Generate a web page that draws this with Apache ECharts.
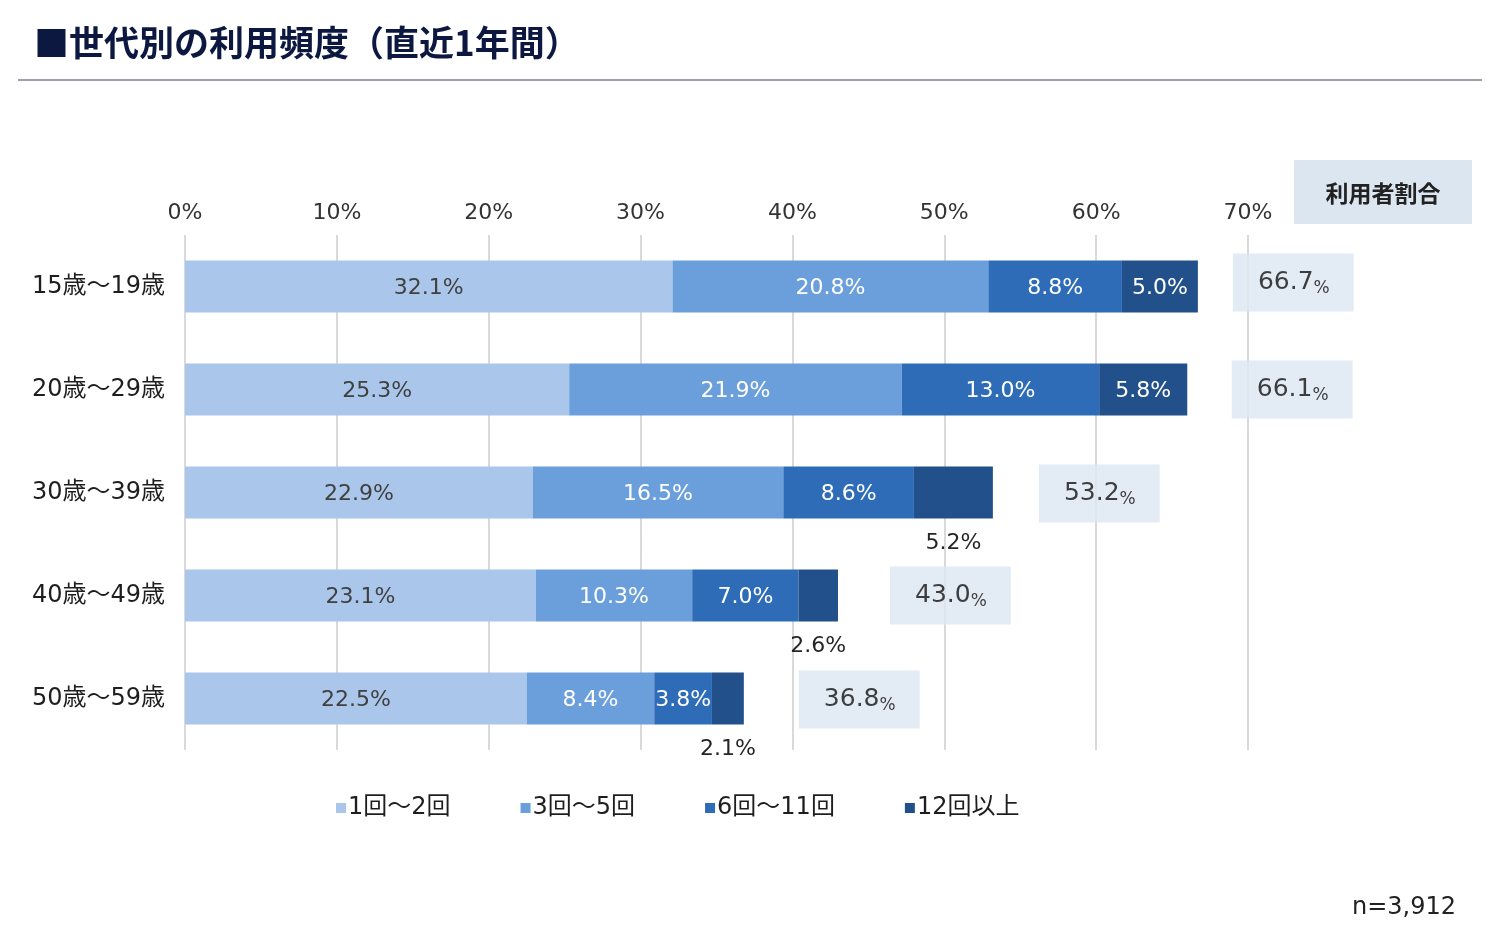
<!DOCTYPE html>
<html><head><meta charset="utf-8">
<script src="https://cdn.jsdelivr.net/npm/echarts@6/dist/echarts.min.js"></script>
<style>html,body{margin:0;padding:0;background:#fff}#c{width:1490px;height:938px}</style>
</head><body><div id="c"></div>
<script>
const categories = ['15歳～19歳','20歳～29歳','30歳～39歳','40歳～49歳','50歳～59歳'];
const seriesNames = ['1回～2回','3回～5回','6回～11回','12回以上'];
const v1to2 = [32.1, 25.3, 22.9, 23.1, 22.5];
const v3to5 = [20.8, 21.9, 16.5, 10.3, 8.4];
const v6to11 = [8.8, 13.0, 8.6, 7.0, 3.8];
const v12plus = [5.0, 5.8, 5.2, 2.6, 2.1];
const totals = [66.7, 66.1, 53.2, 43.0, 36.8];
const xTicks = [0, 10, 20, 30, 40, 50, 60, 70];

// style-only settings
const labelBelow12 = [false, false, true, true, true];
const boxGap = [35, 43, 46, 52, 55];
const boxShift = [-4, 0, 1, 0, 1];

const colors = ['#aac7eb', '#6a9fdc', '#2e6cb8', '#22508a'];
const FONT = '"Noto Sans CJK JP", "Noto Sans", sans-serif';
const FNUM = '"DejaVu Sans", "Noto Sans CJK JP", sans-serif';

const chart = echarts.init(document.getElementById('c'));

function segSeries(name, data, idx) {
  return {
    name, type: 'bar', stack: 'a', barWidth: 52,
    itemStyle: { color: colors[idx] },
    label: {
      show: true, position: 'inside', offset: [0, 1.5],
      formatter: p => p.value.toFixed(1) + '%',
      color: idx === 0 ? '#404040' : '#ffffff',
      fontSize: 22, fontFamily: FNUM
    },
    data: data.map((v, i) => {
      if (idx === 3 && labelBelow12[i]) {
        return { value: v, label: { position: 'bottom', distance: 12, offset: [0, 2], color: '#262626' } };
      }
      return v;
    })
  };
}

const option = {
  animation: false,
  backgroundColor: '#ffffff',
  textStyle: { fontFamily: FNUM },
  title: {
    text: '■世代別の利用頻度（直近1年間）',
    left: 29, top: 20,
    textStyle: { fontSize: 35, fontWeight: 'bold', color: '#0c1840', fontFamily: FONT }
  },
  grid: { left: 185, right: 242, top: 235, bottom: 188, containLabel: false },
  xAxis: {
    type: 'value', position: 'top', min: 0, max: 70, interval: 10,
    axisLine: { show: false }, axisTick: { show: false },
    splitLine: { show: true, lineStyle: { color: '#d9d9d9', width: 2 } },
    axisLabel: { formatter: v => xTicks.includes(v) ? v + '%' : '', fontSize: 22, color: '#333333', margin: 11, fontFamily: FNUM }
  },
  yAxis: {
    type: 'category', inverse: true, data: categories,
    axisLine: { show: false }, axisTick: { show: false },
    axisLabel: { fontSize: 24, color: '#1e1e1e', margin: 20, fontFamily: FNUM, padding: [3, 0, 0, 0] }
  },
  legend: {
    data: seriesNames, left: 331, top: 791,
    icon: 'rect', itemWidth: 10, itemHeight: 10, itemGap: 70,
    textStyle: { fontSize: 24, color: '#1e1e1e', fontFamily: FNUM, padding: [0, 0, 0, -3] }
  },
  series: [
    segSeries(seriesNames[0], v1to2, 0),
    segSeries(seriesNames[1], v3to5, 1),
    segSeries(seriesNames[2], v6to11, 2),
    segSeries(seriesNames[3], v12plus, 3),
    {
      name: 'total', type: 'scatter', symbolSize: 0, silent: true,
      data: totals.map((t, i) => ({
        value: [t, i],
        label: { distance: boxGap[i], offset: [0, boxShift[i]] }
      })),
      label: {
        show: true, position: 'right',
        formatter: p => '{a|' + p.value[0].toFixed(1) + '}{b|%}',
        backgroundColor: '#dce6f1', padding: [14, 24, 14, 25],
        rich: {
          a: { fontSize: 25, color: '#111111', fontFamily: FNUM, lineHeight: 30 },
          b: { fontSize: 17, color: '#111111', fontFamily: FNUM, lineHeight: 30, verticalAlign: 'bottom' }
        }
      }
    }
  ],
  graphic: [
    { type: 'line', shape: { x1: 18, y1: 80, x2: 1482, y2: 80 }, style: { stroke: '#7b8391', lineWidth: 1.5 } },
    { type: 'rect', shape: { x: 1294, y: 160, width: 178, height: 64 }, style: { fill: '#dce6f1' } },
    { type: 'text', x: 1383, y: 193, style: { text: '利用者割合', fontSize: 23, fontWeight: 'bold', fill: '#222222', align: 'center', verticalAlign: 'middle', fontFamily: FONT } },
    { type: 'text', right: 34, top: 896, style: { text: 'n=3,912', fontSize: 24, fill: '#222222', fontFamily: FNUM } }
  ]
};
chart.setOption(option);
</script></body></html>
